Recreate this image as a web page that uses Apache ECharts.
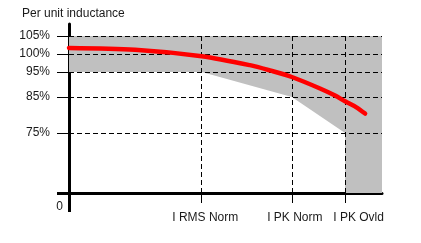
<!DOCTYPE html>
<html>
<head>
<meta charset="utf-8">
<script src="https://cdn.jsdelivr.net/npm/echarts@6/dist/echarts.min.js"></script>
<style>
html,body{margin:0;padding:0;background:#fff;}
#chart{width:421px;height:243px;}
</style>
</head>
<body>
<div id="chart"></div>
<script>
// ---- data ----
var titleText = 'Per unit inductance';
// y tick values (percent) and their labels
var yTickValues = [75, 85, 95, 100, 105];
var yTickLabels = ['75%', '85%', '95%', '100%', '105%'];
var yZeroLabel = '0';
// schematic (non-linear) vertical scale: percent -> axis units
var yScaleDomain = [0, 75, 85, 95, 100, 105, 108.3];
var yScaleRange  = [0, 60, 96, 121, 139, 157, 169];
// x ticks (relative current, 0..100) and labels
var xTickValues = [42.4, 71.2, 88.2];
var xTickLabels = ['I RMS Norm', 'I PK Norm', 'I PK Ovld'];
// inductance curve (relative current, percent)
var curveX   = [0, 21.1, 42.4, 57.8, 64.2, 71.2, 80.2, 85.0, 88.2, 91.7, 94.6];
var curvePct = [101.7, 101.2, 99.4, 96.9, 95.44, 93.0, 88.4, 85.56, 83.8, 82.2, 80.4];
// tolerance band outline (relative current, percent)
var bandX   = [0, 100, 100, 88.2, 88.2, 71.2, 42.4, 0];
var bandPct = [105, 105, 0, 0, 75, 85, 95, 95];

// ---- scale helper ----
function yd(p) {
  for (var i = 0; i < yScaleDomain.length - 1; i++) {
    var a = yScaleDomain[i], b = yScaleDomain[i + 1];
    if (p <= b || i === yScaleDomain.length - 2) {
      return yScaleRange[i] + (p - a) / (b - a) * (yScaleRange[i + 1] - yScaleRange[i]);
    }
  }
}
var yMax = yd(yScaleDomain[yScaleDomain.length - 1]);
var yCustom = yTickValues.map(yd);
function yLabel(v) {
  for (var i = 0; i < yCustom.length; i++) if (Math.abs(yCustom[i] - v) < 1e-6) return yTickLabels[i];
  return '';
}
function xLabel(v) {
  for (var i = 0; i < xTickValues.length; i++) if (Math.abs(xTickValues[i] - v) < 1e-6) return '{l' + i + '|' + xTickLabels[i] + '}';
  return '';
}

var font = '"Liberation Sans", Arial, sans-serif';
var txt = '#1a1a1a';
var dash = {color: '#000', width: 1, type: [5, 3]};

var gridLines = [];
yTickValues.forEach(function (v) {
  gridLines.push([{coord: [0, yd(v)]}, {coord: [100, yd(v)]}]);
});
xTickValues.forEach(function (x) {
  gridLines.push([{coord: [x, 0]}, {coord: [x, yd(105)]}]);
});

var chart = echarts.init(document.getElementById('chart'), null, {renderer: 'canvas'});
chart.setOption({
  animation: false,
  backgroundColor: '#fff',
  title: {
    text: titleText, left: 22, top: 8, padding: 0,
    textStyle: {fontFamily: font, fontSize: 12, fontWeight: 'normal', color: txt}
  },
  grid: {left: 69, right: 39, top: 24, bottom: 50},
  xAxis: [{
    type: 'value', min: 0, max: 100,
    axisLine: {show: true, onZero: false, lineStyle: {color: '#000', width: 3}},
    axisTick: {show: true, customValues: xTickValues, length: 10, lineStyle: {color: '#000', width: 1}},
    axisLabel: {
      show: true, customValues: xTickValues, margin: 19,
      formatter: xLabel,
      fontFamily: font, fontSize: 12, color: txt,
      rich: {
        l0: {fontFamily: font, fontSize: 12, color: txt, padding: [0, 0, 0, 7]},
        l1: {fontFamily: font, fontSize: 12, color: txt, padding: [0, 0, 0, 6]},
        l2: {fontFamily: font, fontSize: 12, color: txt, padding: [0, 0, 0, 27]}
      }
    },
    splitLine: {show: false}
  }, {
    type: 'value', min: 0, max: 100, position: 'bottom',
    axisLine: {show: false},
    axisTick: {show: true, customValues: [0], length: 19, lineStyle: {color: '#000', width: 3}},
    axisLabel: {
      show: true, customValues: [0], margin: 8, align: 'right', padding: [0, 6, 0, 0],
      formatter: function () { return yZeroLabel; },
      fontFamily: font, fontSize: 12, color: txt
    },
    splitLine: {show: false}
  }],
  yAxis: [{
    type: 'value', min: 0, max: yMax,
    axisLine: {show: true, onZero: false, lineStyle: {color: '#000', width: 3}},
    axisTick: {show: true, customValues: yCustom, length: 12, lineStyle: {color: '#000', width: 1}},
    axisLabel: {
      show: true, customValues: yCustom, margin: 19, padding: [5, 0, 0, 0],
      formatter: yLabel, fontFamily: font, fontSize: 12, color: txt
    },
    splitLine: {show: false}
  }, {
    type: 'value', min: 0, max: yMax, position: 'left',
    axisLine: {show: false},
    axisTick: {show: true, customValues: [0], length: 12, lineStyle: {color: '#000', width: 3}},
    axisLabel: {show: false},
    splitLine: {show: false}
  }],
  series: [{
    type: 'custom', z: 1, silent: true,
    data: [[0, 0]],
    renderItem: function (params, api) {
      var pts = bandX.map(function (x, i) { return api.coord([x, yd(bandPct[i])]); });
      return {type: 'polygon', shape: {points: pts}, style: {fill: '#c0c0c0', stroke: null}};
    }
  }, {
    type: 'line', z: 3, data: [], silent: true,
    markLine: {
      silent: true, symbol: ['none', 'none'], animation: false,
      label: {show: false}, lineStyle: dash, emphasis: {disabled: true},
      data: gridLines
    }
  }, {
    type: 'line', z: 5, smooth: 0.3, showSymbol: false, silent: true,
    data: curveX.map(function (x, i) { return [x, yd(curvePct[i])]; }),
    lineStyle: {color: '#ff0000', width: 4.5, cap: 'round'}
  }]
});
</script>
</body>
</html>
